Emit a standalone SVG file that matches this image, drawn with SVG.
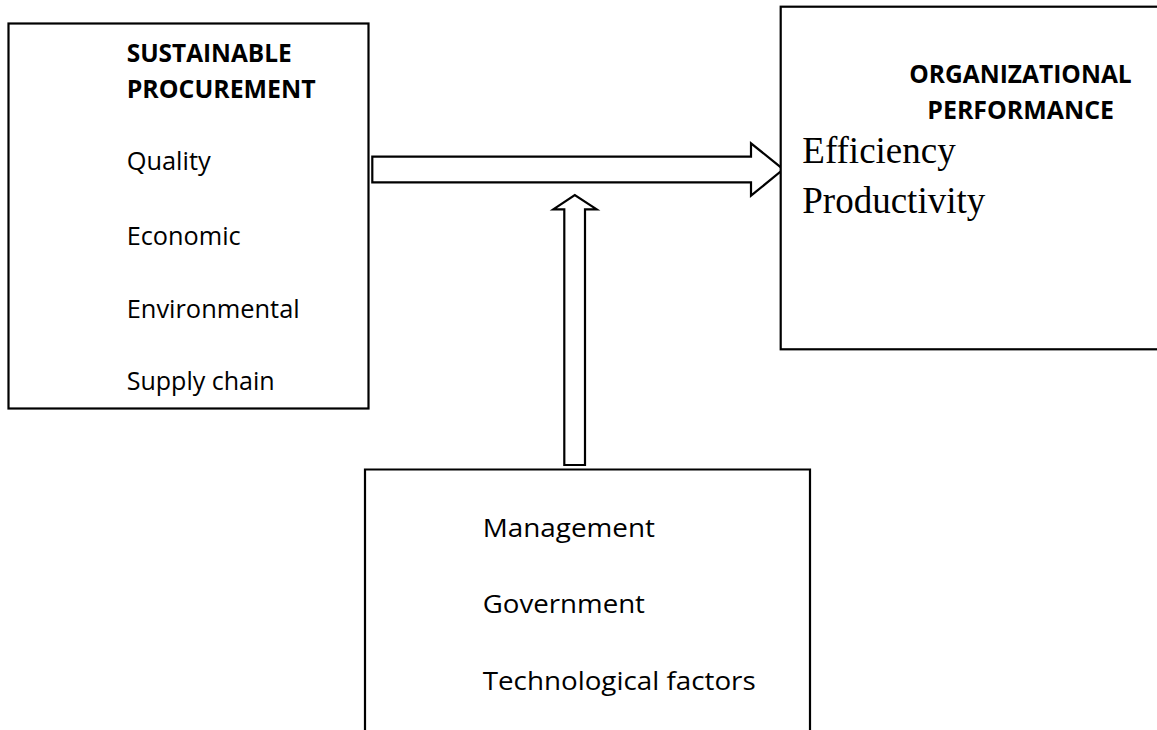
<svg xmlns="http://www.w3.org/2000/svg" width="1157" height="730" viewBox="0 0 1157 730">
  <style>
    .box { fill: #ffffff; stroke: #000000; stroke-width: 2.2; }
    .arrow { fill: #ffffff; stroke: #000000; stroke-width: 2.2; stroke-linejoin: miter; }
    .item { font-family: "Open Sans", "Noto Sans", "Liberation Sans", sans-serif; font-size: 26px; fill: #000000; }
    .head { font-family: "Open Sans", "Noto Sans", "Liberation Sans", sans-serif; font-size: 24.5px; font-weight: bold; fill: #000000; }
    .serif { font-family: "Liberation Serif", "Times New Roman", serif; font-size: 37px; fill: #000000; }
  </style>
  <rect width="1157" height="730" fill="#ffffff"/>

  <!-- connectors -->
  <g id="connectors">
    <polygon class="arrow" points="372.3,156.7 751,156.7 751,143.3 783.3,169.3 751,195.7 751,182.3 372.3,182.3"/>
    <polygon class="arrow" points="564.3,465 564.3,209.3 553.3,209.3 574.8,195 596.7,209.3 585,209.3 585,465"/>
  </g>

  <!-- independent variable -->
  <g id="sustainable-procurement">
    <rect class="box" x="8.5" y="23.5" width="360" height="385"/>
    <text class="head" x="126.7" y="62" textLength="165" lengthAdjust="spacingAndGlyphs">SUSTAINABLE</text>
    <text class="head" x="126.7" y="98" textLength="189" lengthAdjust="spacingAndGlyphs">PROCUREMENT</text>
    <text class="item" x="126.7" y="170" textLength="84" lengthAdjust="spacingAndGlyphs">Quality</text>
    <text class="item" x="126.7" y="245" textLength="114" lengthAdjust="spacingAndGlyphs">Economic</text>
    <text class="item" x="126.7" y="318" textLength="173" lengthAdjust="spacingAndGlyphs">Environmental</text>
    <text class="item" x="126.7" y="390" textLength="148" lengthAdjust="spacingAndGlyphs">Supply chain</text>
  </g>

  <!-- dependent variable -->
  <g id="organizational-performance">
    <rect class="box" x="780.7" y="6.7" width="400" height="342.6"/>
    <text class="head" x="909.3" y="83.3" textLength="222.4" lengthAdjust="spacingAndGlyphs">ORGANIZATIONAL</text>
    <text class="head" x="927.3" y="119" textLength="186.7" lengthAdjust="spacingAndGlyphs">PERFORMANCE</text>
    <text class="serif" x="802.3" y="163.3">Efficiency</text>
    <text class="serif" x="802.3" y="213.3">Productivity</text>
  </g>

  <!-- moderating variable -->
  <g id="moderating-factors">
    <path class="box" d="M365,740 V469.5 H810 V740"/>
    <text class="item" x="482.7" y="537.3" textLength="172.3" lengthAdjust="spacingAndGlyphs">Management</text>
    <text class="item" x="482.7" y="613.3" textLength="162.3" lengthAdjust="spacingAndGlyphs">Government</text>
    <text class="item" x="482.7" y="690" textLength="273" lengthAdjust="spacingAndGlyphs">Technological factors</text>
  </g>
</svg>
